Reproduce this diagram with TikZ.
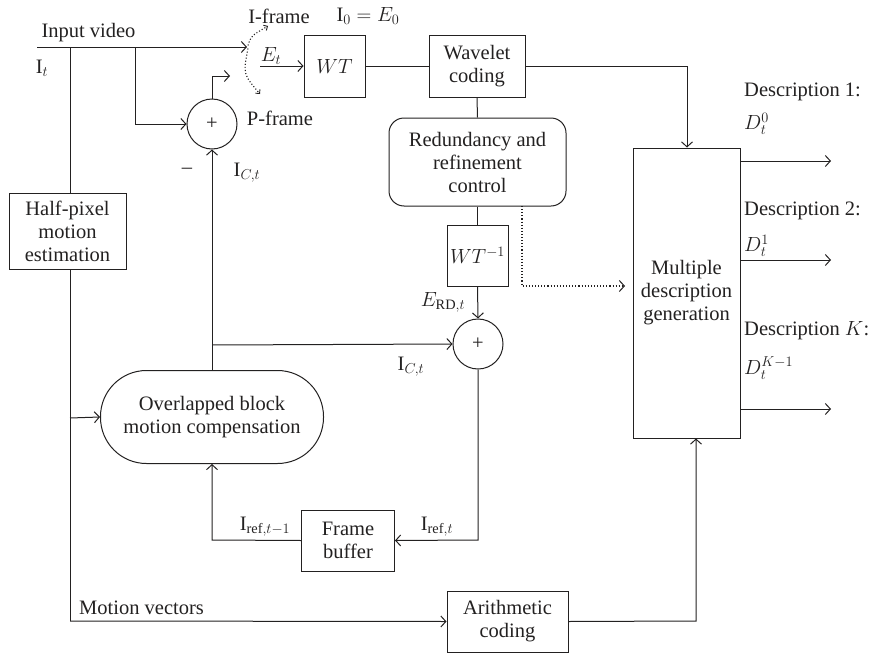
\RequirePackage{fix-cm}
\documentclass[tikz,border=0pt]{standalone}
\usepackage{fontspec}
\setmainfont{Liberation Serif}
\usetikzlibrary{arrows.meta,calc}
\definecolor{ink}{RGB}{35,33,33}
\begin{document}
\begin{tikzpicture}[x=1pt,y=-1pt,
  every node/.style={font=\fontsize{20.5}{23}\selectfont, text=ink},
  line/.style={draw=ink, line width=1pt},
  arr/.style={line, -{Straight Barb[length=5pt,width=11pt]}},
  darr/.style={draw=ink, line width=1.1pt, dotted, -{Straight Barb[length=5pt,width=11pt,line width=1pt]}},
  sarr/.style={draw=ink, line width=1.1pt, dotted, -{Straight Barb[length=3pt,width=6pt,line width=0.9pt]}},
  blk/.style={draw=ink, line width=1pt, rectangle, align=center, inner sep=0pt},
  sumc/.style={draw=ink, line width=1pt, circle, minimum size=50pt, inner sep=0pt},
  lbl/.style={inner sep=0pt}]
\useasboundingbox (0,0) rectangle (881,653);

% blocks
\node[blk, minimum width=117pt, minimum height=76pt] (hp) at (67.5,231) {Half-pixel\\motion\\estimation};
\node[sumc] (sum1) at (212,124) {+};
\node[blk, minimum width=61pt, minimum height=62pt] (wt) at (334.5,66) {$WT$};
\node[blk, minimum width=96pt, minimum height=62pt] (wc) at (477,66) {Wavelet\\coding};
\node[blk, rounded corners=15pt, minimum width=177pt, minimum height=88pt] (rrc) at (477.5,162) {Redundancy and\\refinement\\control};
\node[blk, minimum width=61pt, minimum height=61pt] (iwt) at (477.5,255.5) {$WT^{-1}$};
\node[sumc] (sum2) at (478,344) {+};
\node[blk, rounded corners=46pt, minimum width=223pt, minimum height=93pt] (obmc) at (212,417) {Overlapped block\\motion compensation};
\node[blk, minimum width=93pt, minimum height=61pt] (fb) at (348,540.5) {Frame\\buffer};
\node[blk, minimum width=121pt, minimum height=61pt] (ac) at (507.5,621.5) {Arithmetic\\coding};
\node[blk, minimum width=107pt, minimum height=290pt] (mdg) at (686.5,293) {Multiple\\description\\generation};

% coordinates
\coordinate (in) at (37,47);
\coordinate (sw) at (247,47);
\coordinate (ja) at (70,47);
\coordinate (jb) at (135,47);
\coordinate (jc) at (70,418);
\coordinate (jd) at (70,621);
\coordinate (s1t) at (212,76);
\coordinate (s1e) at (230,76);
\coordinate (et) at (260,66);
\coordinate (swt1) at (248,45.5);
\coordinate (swt2) at (268,26);
\coordinate (swb1) at (248,48.5);
\coordinate (swb2) at (260,94);
\coordinate (jwc) at (687,66);
\coordinate (jic) at (212,345);
\coordinate (jfb) at (478,540);
\coordinate (jfb2) at (212,540);
\coordinate (jac) at (696,621);
\coordinate (dd1) at (522,206);
\coordinate (dd2) at (522,286);
\coordinate (dd3) at (625,286);
\coordinate (o1) at (831,161);
\coordinate (o2) at (831,260);
\coordinate (o3) at (831,409);

% connectors
\draw[arr] (in) -- (sw);
\draw[line] (ja) -- (ja |- hp.north);
\draw[line] (ja |- hp.south) -- (jd);
\draw[arr] (jd) -- (ac.west);
\draw[arr] (jc) -- (obmc.west);
\draw[arr] (jb) -- (jb |- sum1.west) -- (sum1.west);
\draw[arr] (sum1.north) -- (s1t) -- (s1e);
\draw[sarr] (swt1) .. controls (251,36) .. (swt2);
\draw[sarr] (swb1) .. controls (243,74) .. (swb2);
\draw[arr] (et) -- (wt.west);
\draw[line] (wt.east) -- (wc.west);
\draw[arr] (wc.east) -- (jwc) -- (jwc |- mdg.north);
\draw[line] (wc.south) -- (rrc.north);
\draw[line] (rrc.south) -- (iwt.north);
\draw[arr] (iwt.south) -- (sum2.north);
\draw[darr] (dd1) -- (dd2) -- (dd3);
\draw[arr] (obmc.north) -- (sum1.south);
\draw[arr] (jic) -- (sum2.west);
\draw[arr] (sum2.south) -- (jfb) -- (fb.east);
\draw[arr] (fb.west) -- (jfb2) -- (obmc.south);
\draw[arr] (ac.east) -- (jac) -- (jac |- mdg.south);
\draw[arr] (mdg.east |- o1) -- (o1);
\draw[arr] (mdg.east |- o2) -- (o2);
\draw[arr] (mdg.east |- o3) -- (o3);

% labels
\node[lbl] (tin) at (88.5,33) {Input video};
\node[lbl] (tit) at (42,68) {I$_t$};
\node[lbl] (tif) at (279,16) {I-frame};
\node[lbl] (tie) at (368,16) {I$_0=E_0$};
\node[lbl] (tet) at (271,56) {$E_t$};
\node[lbl] (tpf) at (280,118) {P-frame};
\node[lbl] (tmi) at (187,171) {–};
\node[lbl] (tic1) at (247,173) {I$_{C,t}$};
\node[lbl] (terd) at (443,302) {$E_{\mathrm{RD},t}$};
\node[lbl] (tic2) at (411,367) {I$_{C,t}$};
\node[lbl] (tr1) at (265,527) {I$_{\mathrm{ref},t-1}$};
\node[lbl] (tr0) at (437,527) {I$_{\mathrm{ref},t}$};
\node[lbl, anchor=west] (tmv) at (79,608) {Motion vectors};
\node[lbl, anchor=west] (d1) at (744,92) {Description 1:};
\node[lbl, anchor=west] (d1m) at (744,124) {$D_t^0$};
\node[lbl, anchor=west] (d2) at (744,211) {Description 2:};
\node[lbl, anchor=west] (d2m) at (744,246) {$D_t^1$};
\node[lbl, anchor=west] (dk) at (744,331) {Description $K$:};
\node[lbl, anchor=west] (dkm) at (744,368) {$D_t^{K-1}$};
\end{tikzpicture}
\end{document}
